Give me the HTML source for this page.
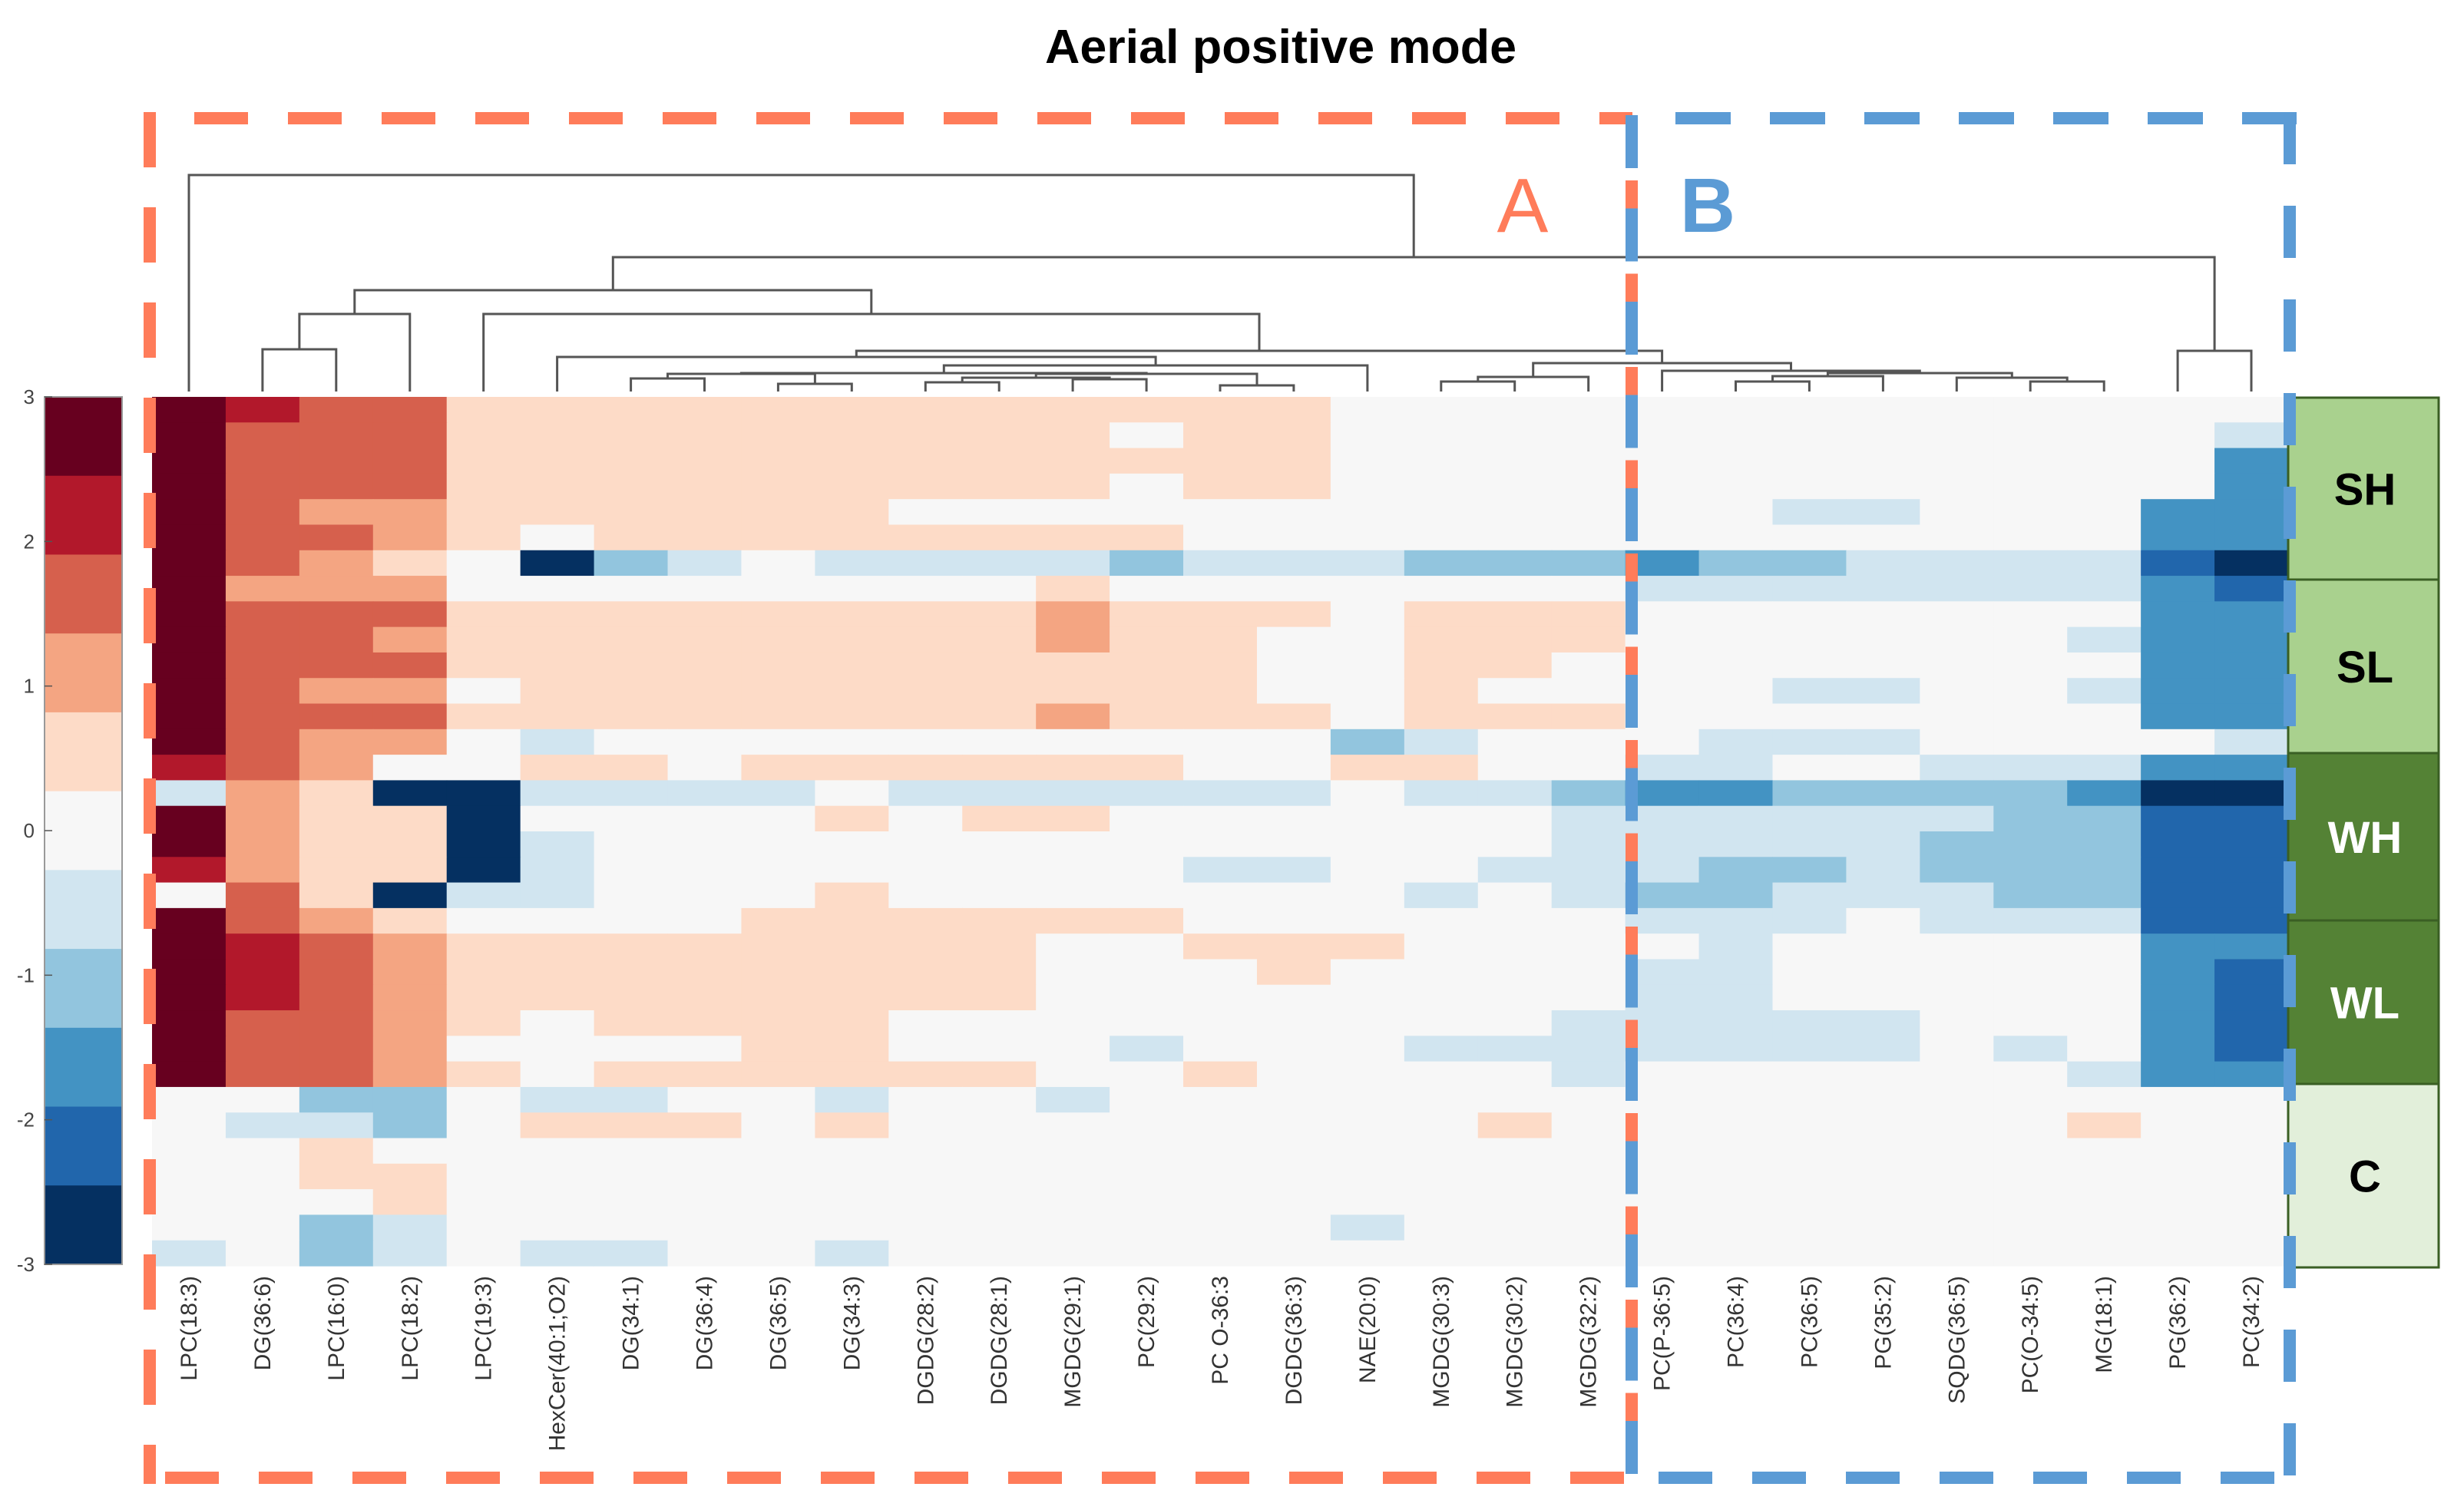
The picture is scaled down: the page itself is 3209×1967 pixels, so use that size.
<!DOCTYPE html>
<html><head><meta charset="utf-8"><style>
html,body{margin:0;padding:0;background:#fff;}
svg{display:block;}
</style></head>
<body>
<svg id="chart" xmlns="http://www.w3.org/2000/svg" width="3209" height="1967" viewBox="0 0 3209 1967" font-family="'Liberation Sans', sans-serif">
<rect x="0" y="0" width="3209" height="1967" fill="#fff"/>
<text x="1668" y="82" text-anchor="middle" font-size="62" font-weight="bold" textLength="614" lengthAdjust="spacingAndGlyphs" fill="#000">Aerial positive mode</text>
<g id="heat"></g>
<g id="dendro" stroke="#555" stroke-width="3" fill="none"></g>
<g id="cbar"></g>
<g id="labels"></g>
<g id="groups"></g>
<g id="boxes" fill="none"></g>
<text x="1983" y="302" text-anchor="middle" font-size="100" fill="#ff7c5a">A</text>
<text x="2224" y="302" text-anchor="middle" font-size="100" font-weight="bold" fill="#5b9bd5">B</text>
</svg>
<script>
// ---- data ----
const lipids = ["LPC(18:3)","DG(36:6)","LPC(16:0)","LPC(18:2)","LPC(19:3)","HexCer(40:1;O2)","DG(34:1)","DG(36:4)","DG(36:5)","DG(34:3)","DGDG(28:2)","DGDG(28:1)","MGDG(29:1)","PC(29:2)","PC O-36:3","DGDG(36:3)","NAE(20:0)","MGDG(30:3)","MGDG(30:2)","MGDG(32:2)","PC(P-36:5)","PC(36:4)","PC(36:5)","PG(35:2)","SQDG(36:5)","PC(O-34:5)","MG(18:1)","PG(36:2)","PC(34:2)"];
// z-score bin levels (-5..5), one array per sample row
const zRows = [
[5,4,3,3,1,1,1,1,1,1, 1,1,1,1,1,1,0,0,0,0, 0,0,0,0,0,0,0,0,0],
[5,3,3,3,1,1,1,1,1,1, 1,1,1,0,1,1,0,0,0,0, 0,0,0,0,0,0,0,0,-1],
[5,3,3,3,1,1,1,1,1,1, 1,1,1,1,1,1,0,0,0,0, 0,0,0,0,0,0,0,0,-3],
[5,3,3,3,1,1,1,1,1,1, 1,1,1,0,1,1,0,0,0,0, 0,0,0,0,0,0,0,0,-3],
[5,3,2,2,1,1,1,1,1,1, 0,0,0,0,0,0,0,0,0,0, 0,0,-1,-1,0,0,0,-3,-3],
[5,3,3,2,1,0,1,1,1,1, 1,1,1,1,0,0,0,0,0,0, 0,0,0,0,0,0,0,-3,-3],
[5,3,2,1,0,-5,-2,-1,0,-1, -1,-1,-1,-2,-1,-1,-1,-2,-2,-2, -3,-2,-2,-1,-1,-1,-1,-4,-5],
[5,2,2,2,0,0,0,0,0,0, 0,0,1,0,0,0,0,0,0,0, -1,-1,-1,-1,-1,-1,-1,-3,-4],
[5,3,3,3,1,1,1,1,1,1, 1,1,2,1,1,1,0,1,1,1, 0,0,0,0,0,0,0,-3,-3],
[5,3,3,2,1,1,1,1,1,1, 1,1,2,1,1,0,0,1,1,1, 0,0,0,0,0,0,-1,-3,-3],
[5,3,3,3,1,1,1,1,1,1, 1,1,1,1,1,0,0,1,1,0, 0,0,0,0,0,0,0,-3,-3],
[5,3,2,2,0,1,1,1,1,1, 1,1,1,1,1,0,0,1,0,0, 0,0,-1,-1,0,0,-1,-3,-3],
[5,3,3,3,1,1,1,1,1,1, 1,1,2,1,1,1,0,1,1,1, 0,0,0,0,0,0,0,-3,-3],
[5,3,2,2,0,-1,0,0,0,0, 0,0,0,0,0,0,-2,-1,0,0, 0,-1,-1,-1,0,0,0,0,-1],
[4,3,2,0,0,1,1,0,1,1, 1,1,1,1,0,0,1,1,0,0, -1,-1,0,0,-1,-1,-1,-3,-3],
[-1,2,1,-5,-5,-1,-1,-1,-1,0, -1,-1,-1,-1,-1,-1,0,-1,-1,-2, -3,-3,-2,-2,-2,-2,-3,-5,-5],
[5,2,1,1,-5,0,0,0,0,1, 0,1,1,0,0,0,0,0,0,-1, -1,-1,-1,-1,-1,-2,-2,-4,-4],
[5,2,1,1,-5,-1,0,0,0,0, 0,0,0,0,0,0,0,0,0,-1, -1,-1,-1,-1,-2,-2,-2,-4,-4],
[4,2,1,1,-5,-1,0,0,0,0, 0,0,0,0,-1,-1,0,0,-1,-1, -1,-2,-2,-1,-2,-2,-2,-4,-4],
[0,3,1,-5,-1,-1,0,0,0,1, 0,0,0,0,0,0,0,-1,0,-1, -2,-2,-1,-1,-1,-2,-2,-4,-4],
[5,3,2,1,0,0,0,0,1,1, 1,1,1,1,0,0,0,0,0,0, -1,-1,-1,0,-1,-1,-1,-4,-4],
[5,4,3,2,1,1,1,1,1,1, 1,1,0,0,1,1,1,0,0,0, 0,-1,0,0,0,0,0,-3,-3],
[5,4,3,2,1,1,1,1,1,1, 1,1,0,0,0,1,0,0,0,0, -1,-1,0,0,0,0,0,-3,-4],
[5,4,3,2,1,1,1,1,1,1, 1,1,0,0,0,0,0,0,0,0, -1,-1,0,0,0,0,0,-3,-4],
[5,3,3,2,1,0,1,1,1,1, 0,0,0,0,0,0,0,0,0,-1, -1,-1,-1,-1,0,0,0,-3,-4],
[5,3,3,2,0,0,0,0,1,1, 0,0,0,-1,0,0,0,-1,-1,-1, -1,-1,-1,-1,0,-1,0,-3,-4],
[5,3,3,2,1,0,1,1,1,1, 1,1,0,0,1,0,0,0,0,-1, 0,0,0,0,0,0,-1,-3,-3],
[0,0,-2,-2,0,-1,-1,0,0,-1, 0,0,-1,0,0,0,0,0,0,0, 0,0,0,0,0,0,0,0,0],
[0,-1,-1,-2,0,1,1,1,0,1, 0,0,0,0,0,0,0,0,1,0, 0,0,0,0,0,0,1,0,0],
[0,0,1,0,0,0,0,0,0,0, 0,0,0,0,0,0,0,0,0,0, 0,0,0,0,0,0,0,0,0],
[0,0,1,1,0,0,0,0,0,0, 0,0,0,0,0,0,0,0,0,0, 0,0,0,0,0,0,0,0,0],
[0,0,0,1,0,0,0,0,0,0, 0,0,0,0,0,0,0,0,0,0, 0,0,0,0,0,0,0,0,0],
[0,0,-2,-1,0,0,0,0,0,0, 0,0,0,0,0,0,-1,0,0,0, 0,0,0,0,0,0,0,0,0],
[-1,0,-2,-1,0,-1,-1,0,0,-1, 0,0,0,0,0,0,0,0,0,0, 0,0,0,0,0,0,0,0,0]
];
const colorTicks = [3,2,1,0,-1,-2,-3];
const groupNames = ["SH","SL","WH","WL","C"];
const groupEdges = [0,7.05,13.85,20.4,26.8,34];
// dendrogram links: [left, right, merge height in z-distance units]; leaves are numbers, nodes are strings
const links = {
  P12:[1,2,455], N123:["P12",3,409],
  P67:[6,7,493], P89:[8,9,500], NA4:["P67","P89",487],
  P1011:[10,11,498], P1213:[12,13,494], Q1013:["P1011","P1213",492],
  P1415:[14,15,502], NA5:["Q1013","P1415",487], NA3:["NA4","NA5",486],
  NA2:["NA3",16,476], NA:[5,"NA2",465],
  P1718:[17,18,497], NB1:["P1718",19,491],
  P2122:[21,22,497], R:["P2122",23,490], P2526:[25,26,497], Q:[24,"P2526",492],
  RQ:["R","Q",486], NB2:[20,"RQ",483], NB:["NB1","NB2",473],
  N526:["NA","NB",457], N426:[4,"N526",409], N2:["N123","N426",378],
  P2728:[27,28,457], N1:["N2","P2728",335], ROOT:[0,"N1",228]
};
// ---- layout ----
const NS="http://www.w3.org/2000/svg";
const palette=['#053061','#2166ac','#4393c3','#92c5de','#d1e5f0','#f7f7f7','#fddbc7','#f4a582','#d6604d','#b2182b','#67001f'];
const hx0=198, hx1=2980, hy0=517, hy1=1649;
const nCols=lipids.length, nRows=zRows.length;
const cw=(hx1-hx0)/nCols, rh=(hy1-hy0)/nRows;
const xCol=i=>hx0+cw*i, yRow=j=>hy0+rh*j;
function mk(tag,attrs,parent){const e=document.createElementNS(NS,tag);for(const k in attrs)e.setAttribute(k,attrs[k]);parent.appendChild(e);return e;}

const heat=document.getElementById('heat');
zRows.forEach((row,j)=>{row.forEach((v,i)=>{
  const r=mk('rect',{x:xCol(i).toFixed(2),y:yRow(j).toFixed(2),width:(cw+0.6).toFixed(2),height:(rh+0.6).toFixed(2),fill:palette[Math.max(0,Math.min(10,v+5))]},heat);
  
  
});});

// dendrogram
const dg=document.getElementById('dendro');
const leafY=510;
const pos={};
function nodePos(k){
  if(typeof k==='number') return {x:xCol(k)+cw/2,y:leafY};
  if(pos[k]) return pos[k];
  const [a,b,h]=links[k]; const pa=nodePos(a), pb=nodePos(b);
  const p={x:(pa.x+pb.x)/2,y:h}; pos[k]=p;
  const path=mk('path',{d:`M${pa.x.toFixed(1)},${pa.y} V${h} H${pb.x.toFixed(1)} V${pb.y}`},dg);
  
  
  return p;
}
nodePos('ROOT');

// colorbar
const cb=document.getElementById('cbar');
const cbx=58, cbw=101, cby0=517, cby1=1647;
const bh=(cby1-cby0)/11;
for(let b=0;b<11;b++){
  const r=mk('rect',{x:cbx,y:(cby0+b*bh).toFixed(2),width:cbw,height:(bh+0.5).toFixed(2),fill:palette[10-b]},cb);
  
  
}
mk('rect',{x:cbx,y:cby0,width:cbw,height:cby1-cby0,fill:'none',stroke:'#999','stroke-width':2},cb);
const yCb=v=>cby0+(3-v)/6*(cby1-cby0);
colorTicks.forEach(t=>{
  const y=yCb(t);
  mk('line',{x1:cbx,x2:cbx+10,y1:y,y2:y,stroke:'#555','stroke-width':1.5},cb);
  const tx=mk('text',{x:45,y:y+9,'text-anchor':'end','font-size':26,fill:'#444'},cb);
  tx.textContent=String(t);
  
  
});

// x labels
const lg=document.getElementById('labels');
const defs=mk('defs',{},document.getElementById('chart'));
const cp=mk('clipPath',{id:'labclip'},defs);
mk('rect',{x:0,y:1650,width:3209,height:238},cp);
lg.setAttribute('clip-path','url(#labclip)');
lipids.forEach((name,i)=>{
  const x=xCol(i)+cw/2;
  const t=mk('text',{transform:`translate(${(x+10).toFixed(1)},1662) rotate(-90)`,'text-anchor':'end','font-size':30,fill:'#333'},lg);
  t.textContent=name;
  
  
});

// group legend
const gg=document.getElementById('groups');
const gy=[518,755,981,1199,1412,1651];
const gFill=['#a9d18e','#a9d18e','#548235','#548235','#e2efda'];
const gText=['#000','#000','#fff','#fff','#000'];
groupNames.forEach((g,k)=>{
  const r=mk('rect',{x:2980,y:gy[k],width:196,height:gy[k+1]-gy[k],fill:gFill[k],stroke:'#3a5f24','stroke-width':3},gg);
  
  
  const t=mk('text',{x:3080,y:(gy[k]+gy[k+1])/2+21,'text-anchor':'middle','font-size':58,'font-weight':'bold',fill:gText[k]},gg);
  t.textContent=g;
  
  
});

// dashed cluster boxes
const bx=document.getElementById('boxes');
const RED='#ff7c5a', BLUE='#5b9bd5';
function dline(d,color,dash,off,name){
  const p=mk('path',{d:d,stroke:color,'stroke-width':16,'stroke-dasharray':dash,'stroke-dashoffset':off},bx);
  
  
}
dline('M253,154 H2126',RED,'70 52',0,'cluster-a-top-border');
dline('M195,146 V1933',RED,'72 52',0,'cluster-a-left-border');
dline('M215,1925 H2120',RED,'70 52',0,'cluster-a-bottom-border');
dline('M2182,154 H2991',BLUE,'72 51',0,'cluster-b-top-border');
dline('M2982,146 V1933',BLUE,'68 54',0,'cluster-b-right-border');
dline('M2160,1925 H2990',BLUE,'70 52',0,'cluster-b-bottom-border');
dline('M2125,235 V1933',RED,'60 61.5',0,'cluster-divider-a');
dline('M2125,150 V1933',BLUE,'69 52.5',0,'cluster-divider-b');
</script>
</body></html>
